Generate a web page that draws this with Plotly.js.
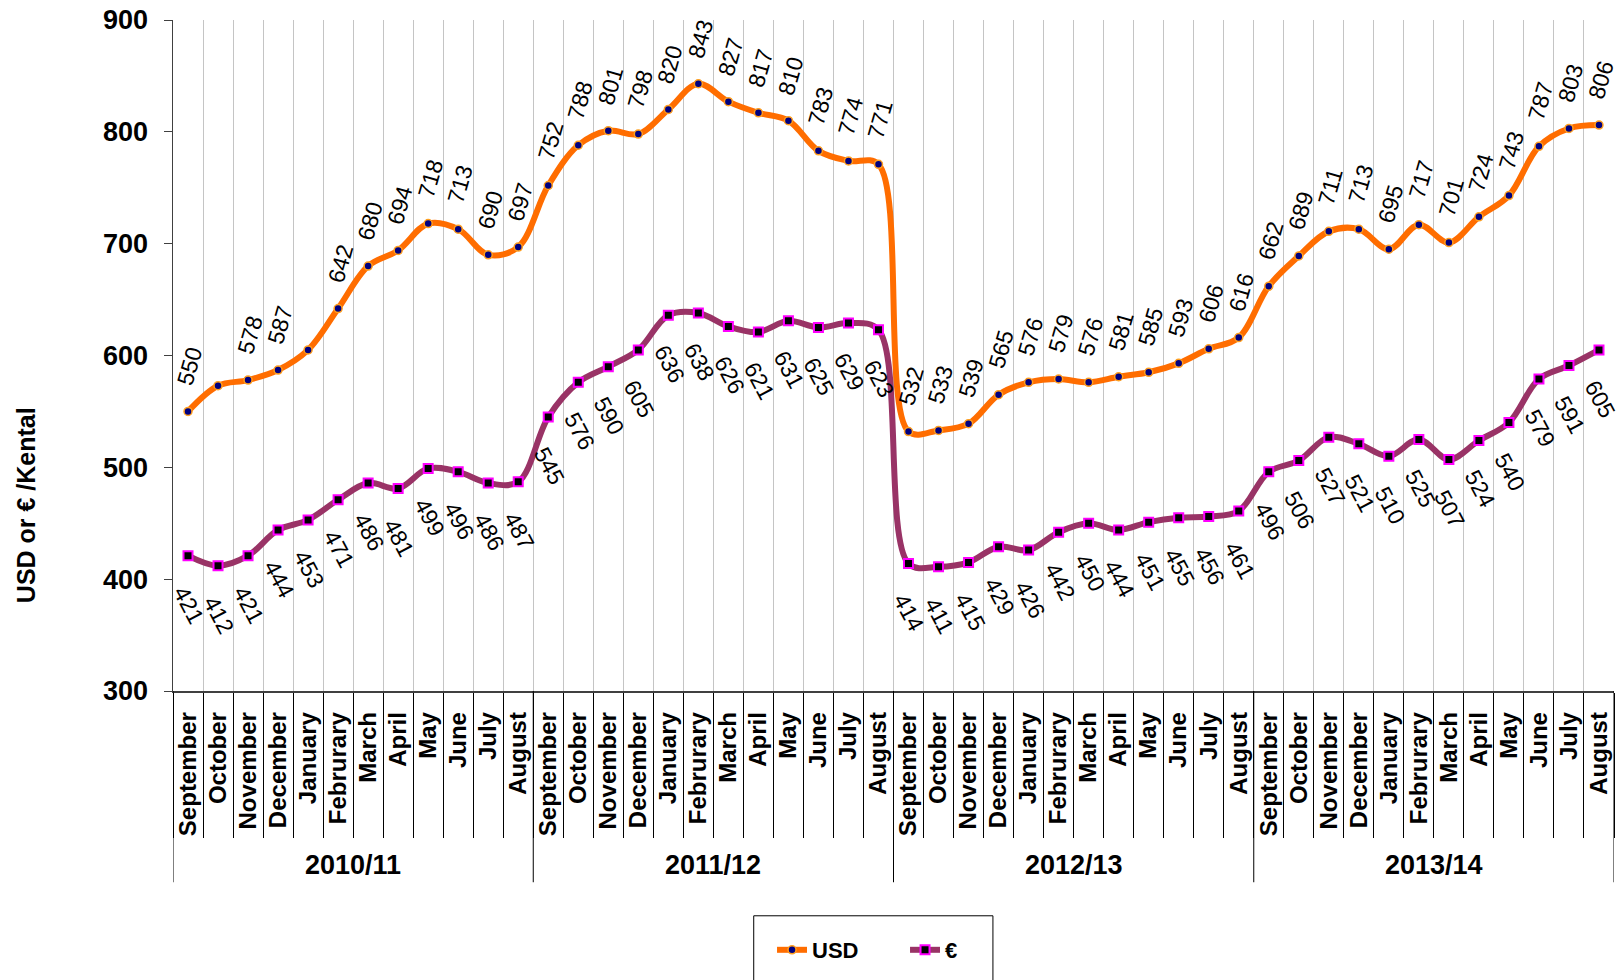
<!DOCTYPE html>
<html>
<head>
<meta charset="utf-8">
<script src="https://cdn.plot.ly/plotly-3.0.1.min.js"></script>
<style>
  html, body { margin: 0; padding: 0; background: #fff; }
  #chart { width: 1622px; height: 980px; }
</style>
</head>
<body>
<div id="chart"></div>
<script>
const months = ['September','October','November','December','January','Februrary','March','April','May','June','July','August'];
const seasons = ['2010/11','2011/12','2012/13','2013/14'];

const usd = [550,573,578,587,605,642,680,694,718,713,690,697,
             752,788,801,798,820,843,827,817,810,783,774,771,
             532,533,539,565,576,579,576,581,585,593,606,616,
             662,689,711,713,695,717,701,724,743,787,803,806];
const usdLabels = ['550','','578','587','','642','680','694','718','713','690','697',
                   '752','788','801','798','820','843','827','817','810','783','774','771',
                   '532','533','539','565','576','579','576','581','585','593','606','616',
                   '662','689','711','713','695','717','701','724','743','787','803','806'];
const eur = [421,412,421,444,453,471,486,481,499,496,486,487,
             545,576,590,605,636,638,626,621,631,625,629,623,
             414,411,415,429,426,442,450,444,451,455,456,461,
             496,506,527,521,510,525,507,524,540,579,591,605];

const n = usd.length;
const xs = [], tickText = [];
for (let i = 0; i < n; i++) { xs.push(i); tickText.push(months[i % months.length]); }

const NARROW = '"Liberation Sans Narrow", "Arial Narrow", "Liberation Sans", Arial, sans-serif';
const SANS = '"Liberation Sans", Arial, sans-serif';

const traces = [
  {
    x: xs, y: usd, name: 'USD', type: 'scatter', mode: 'lines+markers',
    line: { color: '#FF6D00', width: 6, shape: 'spline', smoothing: 1 },
    marker: { symbol: 'circle', size: 8, color: '#000080', line: { color: '#FFA020', width: 1.5 } }
  },
  {
    x: xs, y: eur, name: '€', type: 'scatter', mode: 'lines+markers',
    line: { color: '#993366', width: 6, shape: 'spline', smoothing: 1 },
    marker: { symbol: 'square', size: 9, color: '#000000', line: { color: '#FF00FF', width: 2 } }
  }
];

const annotations = [];
for (let i = 0; i < n; i++) {
  if (usdLabels[i] !== '') {
    annotations.push({ x: xs[i], y: usd[i], xref: 'x', yref: 'y', text: usdLabels[i], showarrow: false,
      textangle: -74, xanchor: 'center', yanchor: 'middle', xshift: 2, yshift: 45,
      font: { family: SANS, size: 23, color: '#000' } });
  }
  annotations.push({ x: xs[i], y: eur[i], xref: 'x', yref: 'y', text: String(eur[i]), showarrow: false,
    textangle: 62, xanchor: 'center', yanchor: 'middle', xshift: 1, yshift: -49,
    font: { family: SANS, size: 23, color: '#000' } });
}

const shapes = [];
const per = months.length;
for (let s = 0; s < seasons.length; s++) {
  const c = s * per + (per - 1) / 2;
  annotations.push({ x: c, y: -0.259, xref: 'x', yref: 'paper', text: '<b>' + seasons[s] + '</b>', showarrow: false,
    xanchor: 'center', yanchor: 'middle', font: { family: NARROW, size: 27, color: '#000' } });
}
for (let s = 0; s <= seasons.length; s++) {
  const b = s * per - 0.5;
  shapes.push({ type: 'line', xref: 'x', yref: 'paper', x0: b, x1: b, y0: 0, y1: -0.285,
    line: { color: '#000', width: 1 } });
}
// legend frame
shapes.push({ type: 'rect', xref: 'paper', yref: 'paper', x0: 0.403, x1: 0.569, y0: -0.335, y1: -0.45,
  line: { color: '#000', width: 1 }, fillcolor: 'rgba(0,0,0,0)' });

// y-axis title
annotations.push({ x: -0.102, y: 0.277, xref: 'paper', yref: 'paper', text: '<b>USD or € /Kental</b>',
  showarrow: false, textangle: -90, xanchor: 'center', yanchor: 'middle',
  font: { family: SANS, size: 25, color: '#000' } });

const layout = {
  width: 1622, height: 980,
  margin: { l: 173, r: 8, t: 20, b: 289 },
  paper_bgcolor: '#fff', plot_bgcolor: '#fff',
  showlegend: true,
  legend: { orientation: 'h', x: 0.508, xanchor: 'center', y: -0.386, yanchor: 'middle',
    entrywidth: 88, entrywidthmode: 'pixels',
    font: { family: NARROW, size: 22, color: '#000', weight: 'bold' }, bgcolor: 'rgba(0,0,0,0)', borderwidth: 0 },
  xaxis: {
    range: [-0.5, n - 0.5], tickmode: 'array', tickvals: xs, ticktext: tickText, tickangle: -90,
    ticks: '', showgrid: false, zeroline: false, showline: true, linecolor: '#404040', linewidth: 1.5,
    ticklabelstandoff: 10,
    tickfont: { family: SANS, size: 24, color: '#000', weight: 'bold' },
    minor: { tickmode: 'linear', tick0: -0.5, dtick: 1, ticks: 'outside', ticklen: 145, tickcolor: '#000', tickwidth: 1,
      showgrid: true, gridcolor: '#c4c4c4', gridwidth: 1 }
  },
  yaxis: {
    range: [300, 900], tickmode: 'linear', tick0: 300, dtick: 100,
    ticks: 'outside', ticklen: 8, tickcolor: '#404040', ticklabelstandoff: 10,
    showgrid: false, zeroline: false, showline: true, linecolor: '#404040', linewidth: 1.5,
    tickfont: { family: NARROW, size: 27, color: '#000', weight: 'bold' }
  },
  annotations: annotations,
  shapes: shapes
};

Plotly.newPlot('chart', traces, layout, { displayModeBar: false, staticPlot: true });
</script>
</body>
</html>
